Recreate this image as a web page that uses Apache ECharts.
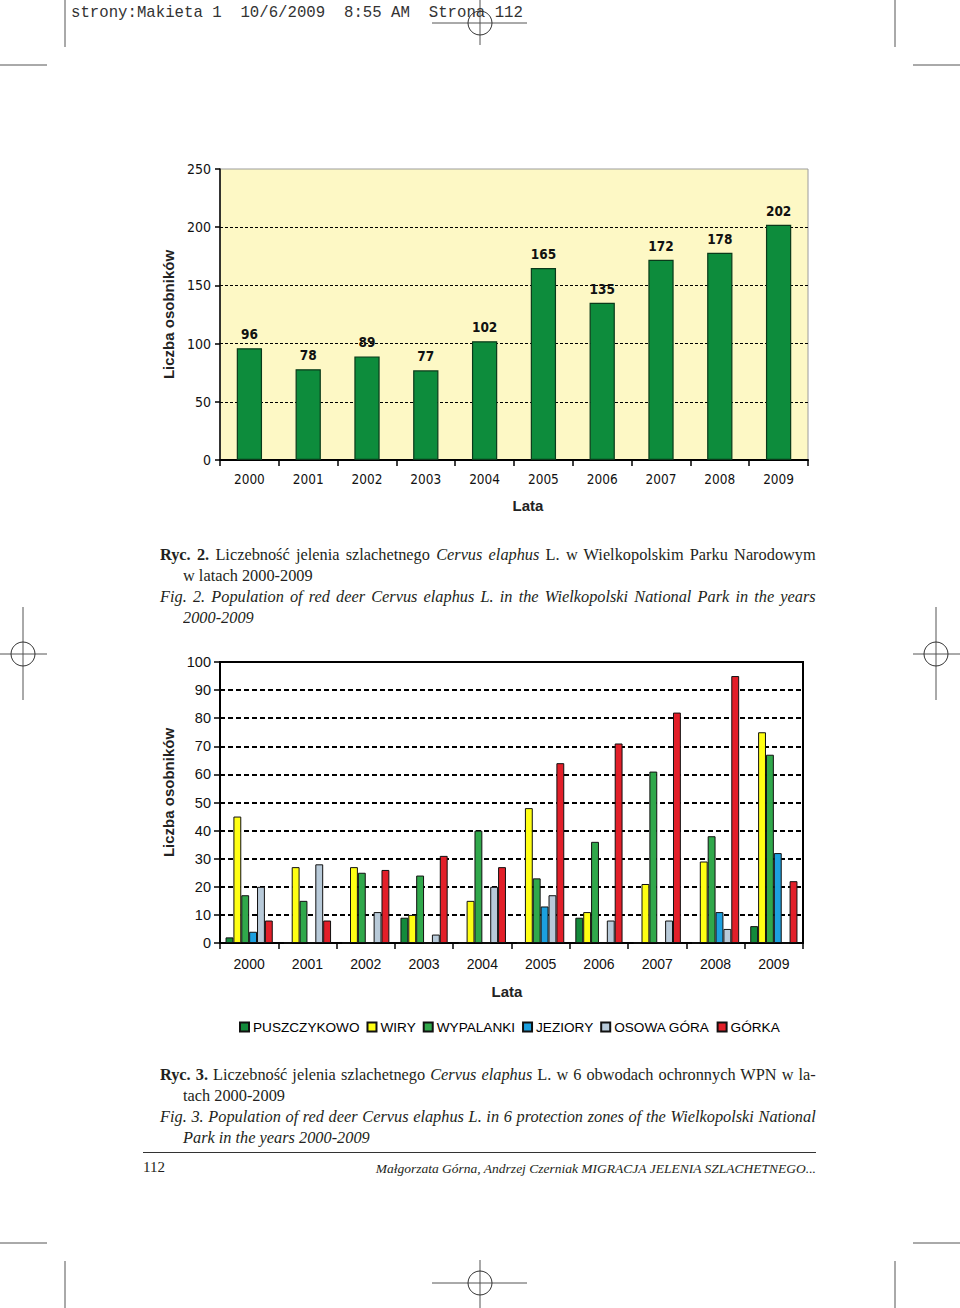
<!DOCTYPE html>
<html><head><meta charset="utf-8">
<script src="https://cdn.jsdelivr.net/npm/echarts@6/dist/echarts.min.js"></script>
<style>
html,body{margin:0;padding:0;background:#fff;}
#page{position:relative;width:960px;height:1308px;overflow:hidden;background:#fff;}
#chart{position:absolute;left:0;top:0;width:960px;height:1308px;}
.t{position:absolute;font-family:"Liberation Serif","Times New Roman",serif;font-size:17px;line-height:21px;color:#231f20;white-space:nowrap;transform:scaleX(0.96);transform-origin:0 0;}
.j{text-align:justify;text-align-last:justify;width:683px;}
.hdr{position:absolute;left:71px;top:4px;font-family:"Liberation Mono","Courier New",monospace;font-size:15.7px;color:#333;white-space:pre;}
</style></head>
<body><div id="page"><div id="chart"></div>
<div class="hdr">strony:Makieta 1  10/6/2009  8:55 AM  Strona 112</div>
<div class="t j" style="left:160px;top:544px;"><b>Ryc. 2.</b> Liczebność jelenia szlachetnego <i>Cervus elaphus</i> L. w Wielkopolskim Parku Narodowym</div>
<div class="t" style="left:183px;top:565px;">w latach 2000-2009</div>
<div class="t j" style="left:160px;top:586px;"><i>Fig. 2. Population of red deer Cervus elaphus L. in the Wielkopolski National Park in the years</i></div>
<div class="t" style="left:183px;top:607px;"><i>2000-2009</i></div>
<div class="t j" style="left:160px;top:1064px;"><b>Ryc. 3.</b> Liczebność jelenia szlachetnego <i>Cervus elaphus</i> L. w 6 obwodach ochronnych WPN w la-</div>
<div class="t" style="left:183px;top:1085px;">tach 2000-2009</div>
<div class="t j" style="left:160px;top:1106px;"><i>Fig. 3. Population of red deer Cervus elaphus L. in 6 protection zones of the Wielkopolski National</i></div>
<div class="t" style="left:183px;top:1127px;"><i>Park in the years 2000-2009</i></div>
<div style="position:absolute;left:143px;top:1152px;width:673px;height:0;border-top:1px solid #333;"></div>
<div class="t" style="left:143px;top:1157px;font-size:15px;transform:none;">112</div>
<div class="t" style="left:356px;top:1158px;font-size:13.5px;width:460px;text-align:right;transform:none;"><i>Małgorzata Górna, Andrzej Czerniak MIGRACJA JELENIA SZLACHETNEGO...</i></div>
</div>
<script>
const years = ['2000','2001','2002','2003','2004','2005','2006','2007','2008','2009'];
const totals = [96, 78, 89, 77, 102, 165, 135, 172, 178, 202];
const zoneNames = ['PUSZCZYKOWO','WIRY','WYPALANKI','JEZIORY','OSOWA GÓRA','GÓRKA'];
const puszczykowo = [2, 0, 0, 9, 0, 0, 9, 0, 0, 6];
const wiry        = [45, 27, 27, 10, 15, 48, 11, 21, 29, 75];
const wypalanki   = [17, 15, 25, 24, 40, 23, 36, 61, 38, 67];
const jeziory     = [4, 0, 0, 0, 0, 13, 0, 0, 11, 32];
const osowaGora   = [20, 28, 11, 3, 20, 17, 8, 8, 5, 0];
const gorka       = [8, 8, 26, 31, 27, 64, 71, 82, 95, 22];

const zoneData = [puszczykowo, wiry, wypalanki, jeziory, osowaGora, gorka];
const zoneColors = ['#138a3b', '#ffff14', '#30a84b', '#1ca0df', '#b8cad9', '#e21f29'];

const SANS = '"Liberation Sans", Arial, sans-serif';
const NARROW = '"Liberation Sans Narrow", "DejaVu Sans Condensed", "Liberation Sans", sans-serif';
const mark = '#555';

function L(x1,y1,x2,y2){return {type:'line',shape:{x1,y1,x2,y2},style:{stroke:mark,lineWidth:1},silent:true};}
function C(cx,cy){return {type:'circle',shape:{cx,cy,r:12},style:{fill:'none',stroke:'#333',lineWidth:1},silent:true};}

const chart = echarts.init(document.getElementById('chart'), null, {renderer:'svg'});
chart.setOption({
  animation:false,
  backgroundColor:'#fff',
  grid:[
    {left:220, top:169, width:588, height:291, show:true, backgroundColor:'#fdf8c5', borderColor:'#9c9c9c', borderWidth:1},
    {left:220, top:662, width:583, height:281, show:true, backgroundColor:'#fff', borderColor:'#000', borderWidth:2}
  ],
  xAxis:[
    {gridIndex:0, type:'category', data:years,
     axisLine:{lineStyle:{color:'#000',width:2}},
     axisTick:{show:true,length:6,lineStyle:{color:'#000',width:1.5}},
     axisLabel:{color:'#111',fontSize:13.5,fontFamily:NARROW,margin:12}},
    {gridIndex:1, type:'category', data:years,
     axisLine:{lineStyle:{color:'#000',width:2}},
     axisTick:{show:true,length:6,lineStyle:{color:'#000',width:1.5}},
     axisLabel:{color:'#111',fontSize:14,fontFamily:SANS,margin:14}}
  ],
  yAxis:[
    {gridIndex:0, type:'value', min:0, max:250, interval:50,
     axisLine:{show:true,lineStyle:{color:'#000',width:1.5}},
     axisTick:{show:true,length:5,lineStyle:{color:'#000',width:1.5}},
     axisLabel:{color:'#111',fontSize:14,fontFamily:NARROW,margin:9},
     splitLine:{show:true,showMinLine:false,showMaxLine:false,lineStyle:{color:'#000',width:1,type:[3,2]}},
     name:'Liczba osobników', nameLocation:'middle', nameGap:40,
     nameTextStyle:{fontWeight:'bold',fontSize:15,fontFamily:SANS,color:'#222'}},
    {gridIndex:1, type:'value', min:0, max:100, interval:10,
     axisLine:{show:true,lineStyle:{color:'#000',width:1.5}},
     axisTick:{show:true,length:6,lineStyle:{color:'#000',width:1.5}},
     axisLabel:{color:'#111',fontSize:14.5,fontFamily:SANS,margin:9},
     splitLine:{show:true,showMinLine:false,showMaxLine:false,lineStyle:{color:'#000',width:2,type:[5,3]}},
     name:'Liczba osobników', nameLocation:'middle', nameGap:40,
     nameTextStyle:{fontWeight:'bold',fontSize:15,fontFamily:SANS,color:'#222',padding:[0,0,0,20]}}
  ],
  legend:{
    data:zoneNames, left:239, top:1020, itemWidth:9, itemHeight:9, itemGap:7, padding:0, icon:'rect',
    textStyle:{fontSize:13.6,fontFamily:SANS,color:'#000',padding:[0,0,0,-1]}
  },
  series:[
    {type:'bar', name:'Liczebność', xAxisIndex:0, yAxisIndex:0, data:totals, barWidth:'43%',
     itemStyle:{color:'#0d8c3c',borderColor:'#0a3a1a',borderWidth:1.2},
     label:{show:true,position:'top',distance:7,fontWeight:'bold',fontSize:13.5,fontFamily:NARROW,color:'#111'}}
  ].concat(zoneNames.map((n,i)=>({
    type:'bar', name:n, xAxisIndex:1, yAxisIndex:1, data:zoneData[i],
    barGap:'0%', barCategoryGap:'19%',
    itemStyle:{color:zoneColors[i],borderColor:'#111',borderWidth:1}
  }))),
  graphic:[
    {type:'text',x:528,y:505,style:{text:'Lata',font:'bold 15px '+SANS,fill:'#222',align:'center',verticalAlign:'middle'}},
    {type:'text',x:507,y:991,style:{text:'Lata',font:'bold 15px '+SANS,fill:'#222',align:'center',verticalAlign:'middle'}},
    L(65,0,65,47), L(895,0,895,47), L(0,65,47,65), L(913,65,960,65),
    L(480,0,480,45), L(432,23,527,23), C(480,23),
    L(23,607,23,700), L(0,654,47,654), C(23,654),
    L(936,607,936,700), L(913,654,960,654), C(936,654),
    L(0,1243,47,1243), L(913,1243,960,1243), L(65,1261,65,1308), L(895,1261,895,1308),
    L(480,1260,480,1308), L(432,1283,527,1283), C(480,1283)
  ]
});
</script></body></html>
